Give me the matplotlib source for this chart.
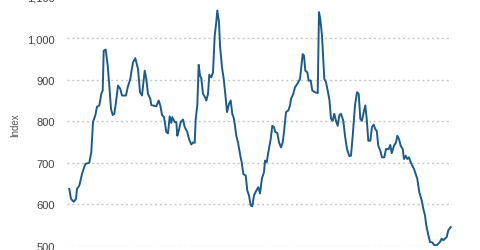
import matplotlib.pyplot as plt
from matplotlib.ticker import FuncFormatter

# time position (periods since start) and index level
period = [0.3, 2, 4.7, 7, 8, 10.3, 13, 16.3, 20.3, 22.3, 24, 26.3, 28, 30.3, 32.3, 33.7,
          34.7, 36.7, 38.7, 40.3, 42, 43.7, 45.3, 47, 49, 51.3, 53, 57, 58.7, 61.3, 62.3,
          64, 66.3, 69, 71, 73, 75.7, 77.3, 79, 81.3, 82.3, 87.3, 89.7, 91.3, 93, 95,
          97.3, 99, 100.7, 102.3, 103.3, 105.7, 107.3, 108.3, 109.7, 111.7, 114, 115.7,
          118.3, 120, 122.3, 124, 125.7, 126.7, 128.3, 129.7, 131, 132.3, 134, 136, 137.3,
          139, 140.3, 142.3, 144, 145.7, 147.3, 148.3, 150, 151, 153, 154.7, 156.3, 158,
          160, 161.7, 163.3, 165, 167.3, 169, 171, 172.7, 174.3, 176.7, 178.3, 180, 181.7,
          183.3, 185, 187.3, 189.3, 191, 193, 195, 196, 197.7, 199.3, 201.7, 203.3, 205,
          206.3, 208.3, 210, 212, 213.7, 215, 217, 219.3, 221, 222, 224.3, 226, 228.3,
          231, 232.3, 233.7, 235, 236.3, 238.3, 239.7, 241.7, 243.3, 246, 248.7, 250,
          251.3, 253, 255.3, 257, 259, 260.5, 262, 263.7, 265.3, 267, 268.7, 270.3, 272,
          274.3, 276, 278, 280.3, 282, 283.7, 286, 288, 289.7, 291.3, 293, 294.7, 296.3,
          297.7, 299.3, 301.3, 303, 304.7, 306.3, 307.7, 309.3, 311.3, 313, 315.3, 317,
          319.7, 321.3, 322.7, 325, 327, 328.3, 330, 331.7, 333.7, 335, 336.7, 338.3,
          340, 341.7, 343.3, 345, 346.7, 348.3, 350.3, 352.7, 354.3, 356, 357.3, 359,
          361, 363.3, 365.3, 367.7, 369.3, 371, 372.7, 374.3, 376, 377.7, 379.3, 381.7]
index_vals = [637, 613, 606, 613, 637, 645, 673, 697, 700, 726, 798, 814, 835, 838, 866, 874,
              970, 973, 934, 886, 830, 815, 818, 846, 886, 878, 862, 862, 882, 902, 918,
              942, 952, 926, 870, 862, 922, 902, 866, 854, 839, 836, 850, 838, 815, 810,
              774, 771, 812, 796, 810, 798, 798, 765, 777, 798, 804, 786, 774, 757, 744,
              749, 748, 806, 838, 936, 910, 904, 866, 858, 850, 866, 912, 906, 918, 1006,
              1039, 1067, 1039, 982, 930, 902, 866, 822, 842, 850, 818, 806, 765, 749, 721,
              701, 673, 669, 633, 621, 597, 595, 621, 633, 641, 626, 663, 677, 705, 701,
              725, 757, 789, 786, 774, 772, 749, 737, 749, 774, 822, 826, 838, 854, 866,
              882, 890, 902, 930, 962, 958, 922, 918, 898, 898, 874, 870, 868, 1063, 1046,
              1006, 902, 894, 870, 850, 806, 801, 818, 801, 789, 814, 818, 801, 765, 733,
              716, 717, 765, 838, 870, 866, 806, 801, 822, 838, 806, 753, 753, 786, 792,
              781, 777, 741, 729, 713, 713, 733, 733, 743, 723, 741, 749, 765, 757, 741,
              733, 709, 717, 709, 713, 701, 693, 685, 673, 661, 629, 609, 589, 573, 549,
              529, 509, 508, 501, 501, 505, 509, 517, 513, 517, 521, 537, 545]
y_ticks = [500, 600, 700, 800, 900, 1000, 1100]

plt.rcParams['font.family'] = ['Liberation Sans', 'DejaVu Sans']

fig = plt.figure(figsize=(4.8, 2.51), dpi=100)
ax = fig.add_axes([67 / 480, 4.3 / 251, 385 / 480, 248.9 / 251])

ax.plot(period, index_vals, color='#1f5b87', linewidth=1.4, solid_joinstyle='round')

ax.set_ylim(500, 1100)
ax.set_xlim(-2, 383)
ax.set_yticks(y_ticks)
ax.yaxis.set_major_formatter(FuncFormatter(lambda v, p: f'{int(v):,}'))
ax.set_xticks([])
ax.tick_params(axis='y', length=0, pad=8.5, labelsize=8, labelcolor='#404040')
ax.grid(axis='y', linestyle=(0, (1.5, 2)), color='#c8c8c8', linewidth=1)
ax.set_axisbelow(True)
for s in ax.spines.values():
    s.set_visible(False)

fig.text(15 / 480, 0.5, 'Index', rotation=90, ha='center', va='center',
         fontsize=7, color='#555555')

fig.savefig('out.png', dpi=100)
